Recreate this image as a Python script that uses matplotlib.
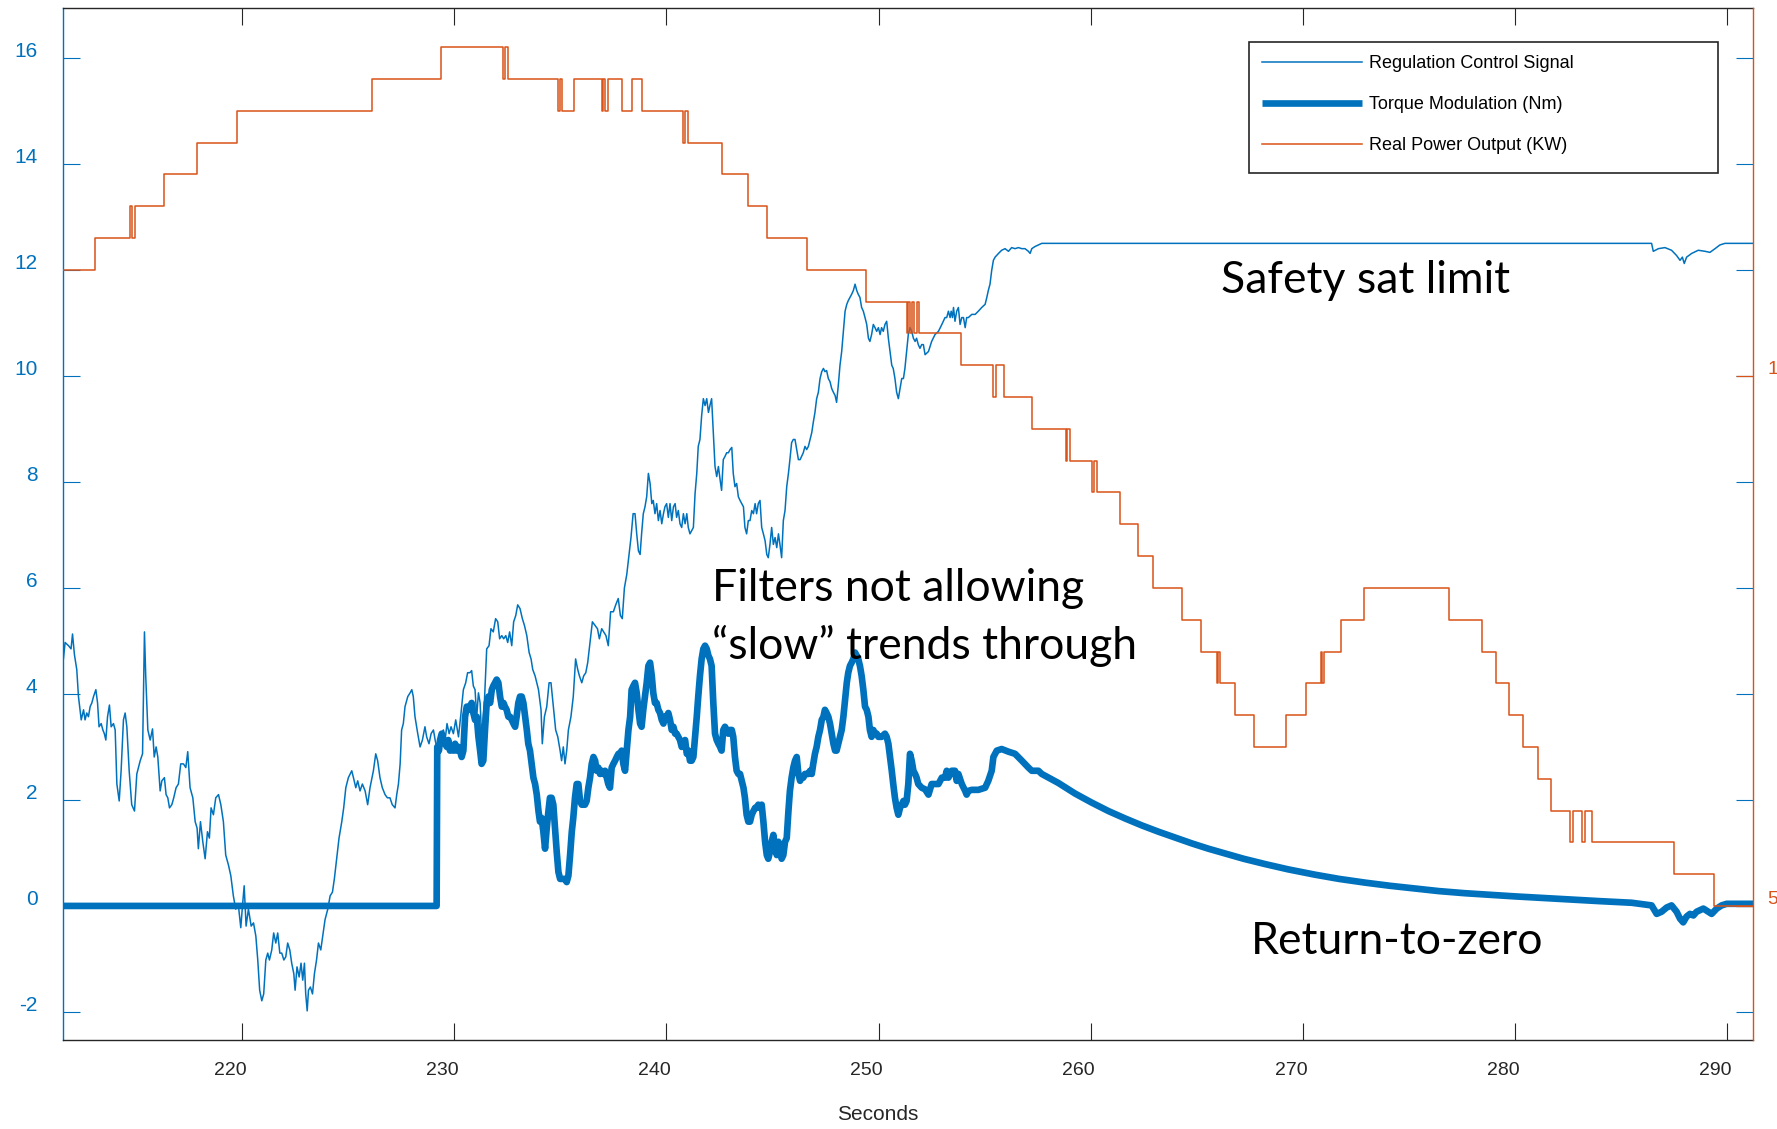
import matplotlib
matplotlib.use("Agg")
import matplotlib.pyplot as plt
from matplotlib.lines import Line2D
from matplotlib.patches import Rectangle
from matplotlib.transforms import ScaledTranslation, blended_transform_factory

BLUE = "#0072BD"
ORANGE = "#D95319"
AXIS_GRAY = "#262626"
TICK_FONT = "Liberation Sans"
NOTE_FONT = "Lato"

# Regulation control signal, (seconds, value) on the left axis
reg_signal = [
    (211.58, 4.66), (211.66, 4.97), (211.82, 4.91), (211.94, 4.85), (212.01, 5.13), (212.10, 4.74),
    (212.21, 4.46), (212.29, 3.95), (212.42, 3.51), (212.53, 3.70), (212.60, 3.51), (212.68, 3.64),
    (212.76, 3.57), (212.84, 3.76), (212.92, 3.83), (213.00, 3.95), (213.11, 4.08), (213.19, 3.83),
    (213.26, 3.38), (213.36, 3.44), (213.44, 3.32), (213.51, 3.25), (213.58, 3.13), (213.66, 3.57),
    (213.75, 3.79), (213.83, 3.38), (213.94, 3.44), (214.02, 3.32), (214.10, 2.30), (214.21, 1.98),
    (214.30, 2.55), (214.41, 3.51), (214.49, 3.64), (214.57, 3.38), (214.68, 2.55), (214.80, 1.91),
    (214.93, 1.79), (215.04, 2.49), (215.20, 2.74), (215.31, 2.87), (215.40, 5.17), (215.46, 4.34),
    (215.56, 3.32), (215.67, 3.13), (215.78, 3.34), (215.86, 2.81), (215.95, 3.00), (216.03, 2.81),
    (216.14, 2.17), (216.22, 2.36), (216.34, 2.42), (216.42, 2.10), (216.50, 2.04), (216.58, 1.85),
    (216.69, 1.91), (216.78, 2.04), (216.89, 2.23), (217.00, 2.30), (217.11, 2.68), (217.24, 2.68),
    (217.35, 2.61), (217.44, 2.91), (217.55, 2.23), (217.68, 2.04), (217.79, 1.59), (217.88, 1.47),
    (217.94, 1.08), (218.04, 1.59), (218.15, 1.21), (218.26, 0.89), (218.37, 1.40), (218.46, 1.28),
    (218.54, 1.85), (218.65, 1.72), (218.76, 2.04), (218.89, 2.10), (219.00, 1.91), (219.12, 1.59),
    (219.23, 0.96), (219.36, 0.77), (219.47, 0.57), (219.59, 0.19), (219.70, -0.06), (219.83, 0.00),
    (219.94, -0.41), (220.02, 0.00), (220.10, 0.38), (220.19, -0.38), (220.30, -0.06), (220.43, -0.38),
    (220.54, -0.32), (220.65, -0.57), (220.74, -1.02), (220.83, -1.59), (220.93, -1.79), (221.02, -1.66),
    (221.12, -1.02), (221.21, -0.89), (221.29, -1.02), (221.40, -0.83), (221.49, -0.51), (221.59, -0.70),
    (221.68, -0.51), (221.78, -0.89), (221.87, -0.89), (221.97, -1.02), (222.06, -0.96), (222.15, -0.70),
    (222.25, -0.83), (222.34, -1.08), (222.44, -1.28), (222.50, -1.59), (222.59, -1.15), (222.69, -1.34),
    (222.78, -1.08), (222.86, -1.40), (222.94, -1.08), (223.00, -1.66), (223.07, -1.98), (223.13, -1.59),
    (223.22, -1.53), (223.32, -1.66), (223.41, -1.28), (223.51, -1.02), (223.60, -0.70), (223.71, -0.83),
    (223.80, -0.57), (223.91, -0.26), (224.04, -0.06), (224.15, 0.19), (224.26, 0.26), (224.35, 0.51),
    (224.46, 0.89), (224.57, 1.28), (224.70, 1.59), (224.79, 1.85), (224.89, 2.23), (225.01, 2.42),
    (225.17, 2.55), (225.25, 2.42), (225.36, 2.23), (225.45, 2.36), (225.56, 2.17), (225.67, 2.30),
    (225.80, 2.17), (225.92, 1.91), (226.03, 2.23), (226.19, 2.55), (226.30, 2.87), (226.39, 2.74),
    (226.50, 2.42), (226.61, 2.23), (226.74, 2.10), (226.85, 2.04), (226.97, 2.04), (227.08, 1.91),
    (227.21, 1.85), (227.29, 2.10), (227.37, 2.30), (227.45, 2.68), (227.52, 3.32), (227.60, 3.44),
    (227.68, 3.76), (227.81, 3.95), (227.92, 4.02), (228.00, 4.08), (228.07, 3.95), (228.15, 3.57),
    (228.28, 3.25), (228.39, 3.00), (228.50, 3.13), (228.62, 3.38), (228.70, 3.19), (228.81, 3.06),
    (228.91, 3.25), (229.02, 3.32), (229.10, 3.13), (229.17, 3.00), (229.25, 3.13), (229.38, 3.25),
    (229.49, 3.32), (229.57, 3.13), (229.66, 3.44), (229.76, 3.25), (229.85, 3.38), (229.96, 3.25),
    (230.07, 3.51), (230.20, 3.19), (230.32, 3.64), (230.43, 4.08), (230.54, 4.21), (230.63, 4.40),
    (230.74, 4.40), (230.82, 4.44), (230.90, 4.15), (230.98, 4.08), (231.06, 3.57), (231.14, 4.02),
    (231.22, 3.83), (231.29, 3.19), (231.42, 3.83), (231.53, 4.85), (231.64, 4.91), (231.73, 5.23),
    (231.84, 5.17), (231.95, 5.42), (232.05, 5.36), (232.14, 5.04), (232.24, 5.10), (232.33, 5.04),
    (232.43, 5.10), (232.52, 4.97), (232.61, 5.17), (232.71, 4.91), (232.80, 5.36), (232.90, 5.48),
    (232.99, 5.68), (233.10, 5.61), (233.21, 5.42), (233.31, 5.29), (233.42, 5.10), (233.53, 4.78),
    (233.62, 4.66), (233.70, 4.46), (233.81, 4.34), (233.89, 4.21), (233.97, 4.08), (234.09, 3.70),
    (234.15, 3.06), (234.25, 3.57), (234.36, 3.76), (234.47, 4.21), (234.56, 4.21), (234.67, 3.76),
    (234.78, 3.32), (234.88, 3.19), (234.99, 2.93), (235.06, 2.74), (235.14, 3.00), (235.22, 2.68),
    (235.30, 2.93), (235.38, 3.32), (235.50, 3.57), (235.61, 3.95), (235.72, 4.66), (235.82, 4.46),
    (235.90, 4.34), (236.01, 4.21), (236.10, 4.34), (236.20, 4.40), (236.29, 4.59), (236.40, 4.97),
    (236.51, 5.36), (236.64, 5.29), (236.75, 5.23), (236.84, 5.04), (236.95, 5.23), (237.04, 5.17),
    (237.15, 5.10), (237.26, 4.91), (237.37, 5.55), (237.50, 5.55), (237.61, 5.68), (237.73, 5.80),
    (237.83, 5.48), (237.92, 5.42), (238.02, 6.00), (238.13, 6.25), (238.24, 6.63), (238.33, 6.95),
    (238.43, 7.40), (238.52, 7.40), (238.60, 7.02), (238.68, 6.70), (238.76, 6.63), (238.83, 7.02),
    (238.91, 7.40), (238.99, 7.53), (239.07, 7.72), (239.15, 8.16), (239.23, 7.97), (239.31, 7.59),
    (239.38, 7.65), (239.46, 7.40), (239.54, 7.59), (239.62, 7.27), (239.70, 7.46), (239.78, 7.21),
    (239.86, 7.40), (239.93, 7.53), (240.01, 7.59), (240.09, 7.33), (240.17, 7.59), (240.25, 7.27),
    (240.33, 7.53), (240.41, 7.59), (240.48, 7.33), (240.56, 7.46), (240.64, 7.21), (240.72, 7.14),
    (240.80, 7.40), (240.88, 7.21), (240.96, 7.40), (241.03, 7.14), (241.11, 7.02), (241.19, 7.08),
    (241.27, 7.14), (241.35, 7.78), (241.43, 8.16), (241.50, 8.67), (241.58, 8.80), (241.66, 9.25),
    (241.74, 9.57), (241.82, 9.44), (241.90, 9.57), (241.98, 9.31), (242.05, 9.44), (242.13, 9.57),
    (242.21, 8.93), (242.29, 8.29), (242.37, 8.10), (242.45, 8.29), (242.53, 8.04), (242.60, 7.84),
    (242.68, 8.42), (242.76, 8.48), (242.84, 8.55), (242.92, 8.55), (243.00, 8.61), (243.08, 8.65),
    (243.15, 8.16), (243.23, 7.91), (243.31, 7.97), (243.39, 7.72), (243.47, 7.65), (243.55, 7.59),
    (243.63, 7.53), (243.70, 7.14), (243.78, 7.02), (243.86, 7.27), (243.94, 7.27), (244.02, 7.46),
    (244.10, 7.40), (244.18, 7.59), (244.25, 7.40), (244.33, 7.59), (244.41, 7.65), (244.49, 7.14),
    (244.57, 7.02), (244.65, 6.89), (244.73, 6.63), (244.80, 6.57), (244.88, 6.82), (244.96, 7.14),
    (245.04, 6.82), (245.12, 6.95), (245.20, 6.76), (245.28, 7.02), (245.35, 6.82), (245.43, 6.57),
    (245.51, 7.27), (245.59, 7.46), (245.67, 7.91), (245.75, 8.16), (245.82, 8.42), (245.90, 8.74),
    (245.98, 8.80), (246.06, 8.80), (246.14, 8.61), (246.22, 8.42), (246.30, 8.42), (246.37, 8.48),
    (246.45, 8.55), (246.53, 8.67), (246.61, 8.61), (246.69, 8.67), (246.77, 8.80), (246.85, 8.93),
    (246.92, 9.12), (247.00, 9.31), (247.08, 9.57), (247.16, 9.69), (247.24, 9.95), (247.32, 10.08),
    (247.40, 10.14), (247.47, 10.08), (247.55, 10.10), (247.63, 9.95), (247.71, 9.89), (247.79, 9.76),
    (247.87, 9.69), (247.95, 9.63), (248.02, 9.50), (248.10, 9.82), (248.18, 10.20), (248.26, 10.46),
    (248.34, 10.84), (248.42, 11.22), (248.50, 11.35), (248.57, 11.42), (248.65, 11.48), (248.73, 11.54),
    (248.81, 11.61), (248.89, 11.73), (248.97, 11.61), (249.04, 11.54), (249.12, 11.48), (249.20, 11.29),
    (249.28, 11.22), (249.36, 11.10), (249.44, 10.97), (249.52, 10.71), (249.59, 10.65), (249.67, 10.78),
    (249.75, 10.97), (249.83, 10.91), (249.91, 10.84), (249.99, 10.91), (250.07, 10.78), (250.14, 10.91),
    (250.22, 10.84), (250.30, 10.97), (250.38, 11.03), (250.46, 10.71), (250.54, 10.46), (250.62, 10.20),
    (250.69, 10.14), (250.77, 9.95), (250.85, 9.69), (250.93, 9.57), (251.01, 9.76), (251.09, 9.95),
    (251.17, 9.95), (251.24, 10.14), (251.32, 10.46), (251.40, 10.78), (251.48, 10.91), (251.56, 10.84),
    (251.64, 10.71), (251.72, 10.65), (251.79, 10.71), (251.87, 10.59), (251.95, 10.52), (252.03, 10.59),
    (252.11, 10.59), (252.19, 10.40), (252.35, 10.46), (252.50, 10.65), (252.66, 10.78), (252.82, 10.84),
    (252.98, 10.97), (253.13, 11.10), (253.21, 11.10), (253.29, 11.22), (253.37, 11.10), (253.42, 11.22),
    (253.48, 11.10), (253.53, 11.29), (253.60, 11.03), (253.68, 11.22), (253.76, 11.29), (253.84, 10.97),
    (253.92, 11.10), (254.00, 11.10), (254.08, 10.91), (254.15, 11.10), (254.23, 11.10), (254.39, 11.16),
    (254.55, 11.16), (254.70, 11.22), (254.86, 11.29), (255.02, 11.35), (255.10, 11.48), (255.17, 11.61),
    (255.25, 11.73), (255.33, 11.99), (255.41, 12.18), (255.49, 12.24), (255.65, 12.31), (255.80, 12.37),
    (255.96, 12.40), (256.12, 12.35), (256.27, 12.42), (256.43, 12.40), (256.59, 12.42), (256.75, 12.40),
    (256.90, 12.40), (257.06, 12.35), (257.14, 12.31), (257.22, 12.40), (257.37, 12.44), (257.53, 12.47),
    (257.69, 12.50), (286.43, 12.50), (286.51, 12.35), (286.75, 12.40), (287.06, 12.42), (287.37, 12.37),
    (287.61, 12.27), (287.77, 12.18), (287.88, 12.24), (287.97, 12.12), (288.08, 12.24), (288.32, 12.31),
    (288.63, 12.37), (288.95, 12.35), (289.18, 12.33), (289.42, 12.40), (289.65, 12.47), (289.89, 12.50),
    (291.21, 12.50),
]

# Torque modulation in Nm, (seconds, value) on the left axis
torque_nm = [
    (211.54, 0.00), (229.17, 0.00), (229.20, 3.00), (229.28, 2.93), (229.33, 3.13), (229.41, 3.25),
    (229.49, 3.13), (229.57, 3.06), (229.65, 3.00), (229.72, 3.13), (229.80, 2.93), (229.88, 3.00),
    (229.96, 2.93), (230.04, 3.06), (230.12, 2.93), (230.20, 3.00), (230.27, 2.93), (230.35, 2.81),
    (230.43, 2.93), (230.51, 3.57), (230.59, 3.76), (230.67, 3.70), (230.74, 3.76), (230.82, 3.83),
    (230.90, 3.64), (230.98, 3.51), (231.06, 3.57), (231.14, 3.19), (231.22, 2.93), (231.29, 2.68),
    (231.37, 2.74), (231.45, 3.32), (231.53, 3.83), (231.61, 3.95), (231.69, 3.83), (231.77, 4.08),
    (231.84, 4.15), (231.92, 4.21), (232.00, 4.27), (232.08, 4.21), (232.16, 3.95), (232.24, 3.76),
    (232.32, 3.83), (232.39, 3.76), (232.47, 3.70), (232.55, 3.57), (232.63, 3.57), (232.71, 3.51),
    (232.79, 3.44), (232.87, 3.38), (232.94, 3.57), (233.02, 3.83), (233.10, 3.95), (233.18, 3.95),
    (233.26, 3.83), (233.34, 3.57), (233.42, 3.32), (233.49, 3.06), (233.57, 2.93), (233.65, 2.68),
    (233.73, 2.42), (233.81, 2.30), (233.89, 2.10), (233.97, 1.79), (234.04, 1.59), (234.12, 1.66),
    (234.20, 1.40), (234.28, 1.08), (234.36, 1.47), (234.44, 1.79), (234.51, 2.04), (234.59, 2.04),
    (234.67, 1.91), (234.75, 1.47), (234.83, 1.02), (234.91, 0.64), (234.99, 0.51), (235.06, 0.51),
    (235.14, 0.51), (235.22, 0.51), (235.30, 0.45), (235.38, 0.57), (235.46, 0.96), (235.54, 1.40),
    (235.61, 1.66), (235.69, 2.04), (235.77, 2.30), (235.85, 2.30), (235.93, 1.98), (236.01, 1.91),
    (236.09, 1.91), (236.16, 1.91), (236.24, 1.98), (236.32, 2.23), (236.40, 2.42), (236.48, 2.68),
    (236.56, 2.81), (236.64, 2.74), (236.71, 2.55), (236.79, 2.61), (236.87, 2.49), (236.95, 2.55),
    (237.03, 2.49), (237.11, 2.55), (237.19, 2.42), (237.26, 2.30), (237.34, 2.23), (237.42, 2.61),
    (237.50, 2.68), (237.58, 2.74), (237.66, 2.81), (237.74, 2.87), (237.81, 2.87), (237.89, 2.93),
    (237.97, 2.68), (238.05, 2.55), (238.13, 2.93), (238.21, 3.32), (238.29, 3.57), (238.36, 4.08),
    (238.44, 4.15), (238.52, 4.21), (238.60, 4.02), (238.68, 3.70), (238.76, 3.44), (238.83, 3.38),
    (238.91, 3.70), (238.99, 3.95), (239.07, 4.21), (239.15, 4.53), (239.23, 4.59), (239.31, 4.34),
    (239.38, 4.02), (239.46, 3.83), (239.54, 3.83), (239.62, 3.70), (239.70, 3.64), (239.78, 3.51),
    (239.86, 3.44), (239.93, 3.57), (240.01, 3.57), (240.09, 3.64), (240.17, 3.51), (240.25, 3.32),
    (240.33, 3.38), (240.41, 3.25), (240.48, 3.25), (240.56, 3.19), (240.64, 3.13), (240.72, 3.00),
    (240.80, 3.06), (240.88, 3.13), (240.96, 2.87), (241.03, 2.93), (241.11, 2.74), (241.19, 2.74),
    (241.27, 2.81), (241.35, 3.19), (241.43, 3.57), (241.50, 3.95), (241.58, 4.34), (241.66, 4.66),
    (241.74, 4.85), (241.82, 4.91), (241.90, 4.85), (241.98, 4.72), (242.05, 4.66), (242.13, 4.53),
    (242.21, 3.83), (242.29, 3.25), (242.37, 3.13), (242.45, 3.06), (242.53, 3.00), (242.60, 2.93),
    (242.68, 3.32), (242.76, 3.38), (242.84, 3.32), (242.92, 3.25), (243.00, 3.32), (243.08, 3.32),
    (243.15, 3.19), (243.23, 2.81), (243.31, 2.55), (243.39, 2.49), (243.47, 2.49), (243.55, 2.36),
    (243.63, 2.23), (243.70, 2.04), (243.78, 1.72), (243.86, 1.59), (243.94, 1.59), (244.02, 1.72),
    (244.10, 1.79), (244.18, 1.85), (244.25, 1.85), (244.33, 1.91), (244.41, 1.85), (244.49, 1.91),
    (244.57, 1.59), (244.65, 1.21), (244.73, 0.96), (244.80, 0.89), (244.88, 1.02), (244.96, 1.21),
    (245.04, 1.34), (245.12, 1.08), (245.20, 0.96), (245.28, 1.21), (245.35, 1.02), (245.43, 0.89),
    (245.51, 0.96), (245.59, 1.21), (245.67, 1.28), (245.75, 1.79), (245.82, 2.17), (245.90, 2.42),
    (245.98, 2.61), (246.06, 2.74), (246.14, 2.81), (246.22, 2.49), (246.30, 2.36), (246.37, 2.42),
    (246.45, 2.42), (246.53, 2.49), (246.61, 2.49), (246.69, 2.49), (246.77, 2.55), (246.85, 2.49),
    (246.92, 2.68), (247.00, 2.87), (247.08, 3.00), (247.16, 3.19), (247.24, 3.32), (247.32, 3.51),
    (247.40, 3.57), (247.47, 3.70), (247.55, 3.64), (247.63, 3.57), (247.71, 3.44), (247.79, 3.25),
    (247.87, 3.06), (247.95, 2.93), (248.02, 2.93), (248.10, 3.06), (248.18, 3.19), (248.26, 3.32),
    (248.34, 3.57), (248.42, 3.89), (248.50, 4.21), (248.57, 4.40), (248.65, 4.53), (248.73, 4.59),
    (248.81, 4.66), (248.89, 4.78), (248.97, 4.72), (249.04, 4.66), (249.12, 4.53), (249.20, 4.34),
    (249.28, 4.08), (249.36, 3.76), (249.44, 3.70), (249.52, 3.57), (249.59, 3.32), (249.67, 3.19),
    (249.75, 3.32), (249.83, 3.25), (249.91, 3.25), (249.99, 3.19), (250.14, 3.19), (250.30, 3.25),
    (250.38, 3.19), (250.46, 3.06), (250.54, 2.81), (250.62, 2.55), (250.69, 2.30), (250.77, 2.04),
    (250.85, 1.85), (250.93, 1.72), (251.01, 1.85), (251.09, 1.91), (251.17, 1.98), (251.24, 1.91),
    (251.32, 1.98), (251.40, 2.30), (251.48, 2.87), (251.56, 2.74), (251.64, 2.55), (251.72, 2.49),
    (251.79, 2.42), (251.87, 2.30), (252.03, 2.23), (252.19, 2.20), (252.35, 2.10), (252.50, 2.30),
    (252.66, 2.30), (252.82, 2.30), (252.98, 2.42), (253.13, 2.42), (253.21, 2.55), (253.29, 2.42),
    (253.45, 2.55), (253.60, 2.55), (253.68, 2.36), (253.76, 2.49), (253.92, 2.30), (254.08, 2.17),
    (254.15, 2.10), (254.23, 2.17), (254.39, 2.19), (254.70, 2.19), (255.02, 2.23), (255.17, 2.36),
    (255.33, 2.55), (255.41, 2.81), (255.57, 2.93), (255.80, 2.96), (256.12, 2.91), (256.43, 2.87),
    (256.75, 2.74), (257.06, 2.61), (257.22, 2.55), (257.53, 2.55), (257.69, 2.49), (258.47, 2.32),
    (259.26, 2.12), (260.04, 1.95), (260.83, 1.79), (261.62, 1.65), (262.40, 1.52), (263.19, 1.40),
    (263.97, 1.29), (264.76, 1.18), (265.54, 1.08), (266.33, 0.99), (267.20, 0.89), (268.21, 0.79),
    (269.30, 0.69), (270.56, 0.59), (271.70, 0.51), (272.92, 0.44), (274.10, 0.38), (275.27, 0.33),
    (276.40, 0.28), (277.63, 0.24), (278.80, 0.21), (279.99, 0.18), (281.30, 0.15), (282.66, 0.12),
    (284.00, 0.09), (285.49, 0.06),
    (286.43, 0.01), (286.67, -0.15), (286.90, -0.11), (287.14, -0.03), (287.37, 0.01), (287.61, -0.11),
    (287.77, -0.24), (287.92, -0.31), (288.08, -0.20), (288.24, -0.15), (288.40, -0.18), (288.55, -0.11),
    (288.71, -0.08), (288.87, -0.05), (289.10, -0.11), (289.26, -0.15), (289.50, -0.05), (289.73, 0.01),
    (289.97, 0.04), (291.21, 0.04),
]

# Real power output in kW: (time the level starts, level) on the right axis
power_kw = [
    (211.54, 11.0), (213.07, 11.3), (214.74, 11.6), (214.83, 11.3), (214.96, 11.6), (216.34, 11.9),
    (217.87, 12.2), (219.75, 12.5), (226.14, 12.8), (229.38, 13.1), (232.31, 12.8), (232.40, 13.1),
    (232.55, 12.8), (234.91, 12.5), (234.99, 12.8), (235.07, 12.5), (235.66, 12.8), (236.95, 12.5),
    (237.03, 12.8), (237.10, 12.5), (237.26, 12.8), (237.89, 12.5), (238.39, 12.8), (238.84, 12.5),
    (240.80, 12.2), (240.88, 12.5), (241.04, 12.2), (242.63, 11.9), (243.83, 11.6), (244.72, 11.3),
    (246.64, 11.0), (249.41, 10.7), (251.32, 10.4), (251.40, 10.7), (251.50, 10.4), (251.59, 10.7),
    (251.68, 10.4), (251.79, 10.7), (251.90, 10.4), (253.88, 10.1), (255.41, 9.8), (255.52, 10.1),
    (255.91, 9.8), (257.21, 9.5), (258.82, 9.2), (258.90, 9.5), (259.03, 9.2), (260.07, 8.9),
    (260.15, 9.2), (260.31, 8.9), (261.39, 8.6), (262.21, 8.3), (262.92, 8.0), (264.30, 7.7),
    (265.19, 7.4), (265.93, 7.1), (266.00, 7.4), (266.09, 7.1), (266.80, 6.8), (267.71, 6.5),
    (269.18, 6.8), (270.13, 7.1), (270.85, 7.4), (270.92, 7.1), (271.00, 7.4), (271.79, 7.7),
    (272.88, 8.0), (276.89, 7.7), (278.42, 7.4), (279.09, 7.1), (279.71, 6.8), (280.38, 6.5),
    (281.06, 6.2), (281.67, 5.9), (282.58, 5.6), (282.72, 5.9), (283.15, 5.6), (283.28, 5.9),
    (283.60, 5.6), (287.50, 5.3), (289.38, 5.0), (291.21, 5.0),
]

x_ticks = [220, 230, 240, 250, 260, 270, 280, 290]
left_ticks = [-2, 0, 2, 4, 6, 8, 10, 12, 14, 16]
right_ticks = [5, 10]
x_range = (211.54, 291.21)
left_range = (-2.53, 16.94)

series_labels = ["Regulation Control Signal", "Torque Modulation (Nm)", "Real Power Output (KW)"]

reg_t, reg_v = zip(*reg_signal)
torque_t, torque_v = zip(*torque_nm)
power_t, power_v = zip(*power_kw)

fig = plt.figure(figsize=(17.77, 11.29), dpi=100)
ax = fig.add_axes([0.0352, 0.0788, 0.9513, 0.9141])
ax2 = ax.twinx()

ax.plot(reg_t, reg_v, color=BLUE, lw=1.1, solid_joinstyle="round")
ax.plot(torque_t, torque_v, color=BLUE, lw=4.8, solid_joinstyle="round", solid_capstyle="butt")
ax2.plot(power_t, power_v, color=ORANGE, lw=1.1, drawstyle="steps-post")

ax.set_xlim(*x_range)
ax.set_ylim(*left_range)
# right axis: 5 kW sits on the zero line, one kW spans two left units
ax2.set_ylim(5 + left_range[0] / 2, 5 + left_range[1] / 2)

ax.set_xticks(x_ticks)
ax.set_yticks(left_ticks)
ax2.set_yticks(right_ticks)

tick_len = 12.2
ax.tick_params(axis="both", direction="in", length=tick_len, width=0.8,
               labelleft=False, labelbottom=False, top=True, right=True)
ax.tick_params(axis="y", colors=BLUE)
ax.tick_params(axis="x", colors=AXIS_GRAY)
ax2.tick_params(axis="y", direction="in", length=tick_len, width=0.9,
                colors=ORANGE, labelright=False)

ax.spines["left"].set_color(BLUE)
ax.spines["right"].set_visible(False)
for side in ("top", "bottom"):
    ax.spines[side].set_color(AXIS_GRAY)
for side in ("left", "top", "bottom"):
    ax2.spines[side].set_visible(False)
ax2.spines["right"].set_color(ORANGE)
for sp in list(ax.spines.values()) + list(ax2.spines.values()):
    sp.set_linewidth(1.0)

# tick labels placed by hand so they sit a little off their ticks
dpi_tr = fig.dpi_scale_trans
left_tf = blended_transform_factory(ax.transAxes, ax.transData) + ScaledTranslation(-0.25, 0.06, dpi_tr)
for v in left_ticks:
    ax.text(0, v, str(v), transform=left_tf, ha="right", va="center",
            color=BLUE, fontsize=15, family=TICK_FONT)

bottom_tf = blended_transform_factory(ax.transData, ax.transAxes) + ScaledTranslation(-0.12, -0.30, dpi_tr)
for v in x_ticks:
    ax.text(v, 0, str(v), transform=bottom_tf, ha="center", va="center",
            color=AXIS_GRAY, fontsize=14, family=TICK_FONT)

right_tf = blended_transform_factory(ax2.transAxes, ax2.transData) + ScaledTranslation(0.14, 0.06, dpi_tr)
for v in right_ticks:
    ax2.text(1, v, str(v), transform=right_tf, ha="left", va="center",
             color=ORANGE, fontsize=14, family=TICK_FONT)

fig.text(878 / 1777, 1 - 1115 / 1129, "Seconds", ha="center", va="center",
         fontsize=15, color=AXIS_GRAY, family=TICK_FONT)

# call-outs
note_kw = dict(fontsize=32, family=NOTE_FONT, color="black", ha="left", va="baseline")
ax.text(266.14, 11.56, "Safety sat limit", **note_kw)
ax.text(242.13, 5.76, "Filters not allowing", **note_kw)
ax.text(242.13, 4.66, "\u201cslow\u201d trends through", **note_kw)
ax.text(267.55, -0.90, "Return-to-zero", **note_kw)

# legend box drawn separately so its padding can be uneven
ax2.add_patch(Rectangle((0.7019, 0.8401), 0.2774, 0.1270, transform=ax2.transAxes,
                        facecolor="white", edgecolor=AXIS_GRAY, lw=1.2,
                        zorder=4.5, clip_on=False))
handles = [
    Line2D([], [], color=BLUE, lw=1.1),
    Line2D([], [], color=BLUE, lw=4.8, solid_capstyle="butt"),
    Line2D([], [], color=ORANGE, lw=1.1),
]
leg = ax2.legend(handles, series_labels, loc="upper left", bbox_to_anchor=(0.7019, 0.9671),
                 prop={"family": TICK_FONT, "size": 13}, handlelength=5.5,
                 handletextpad=0.4, borderpad=0.74, labelspacing=1.33,
                 borderaxespad=0, frameon=False)
leg.set_zorder(5)

fig.savefig("out.png", dpi=100)
